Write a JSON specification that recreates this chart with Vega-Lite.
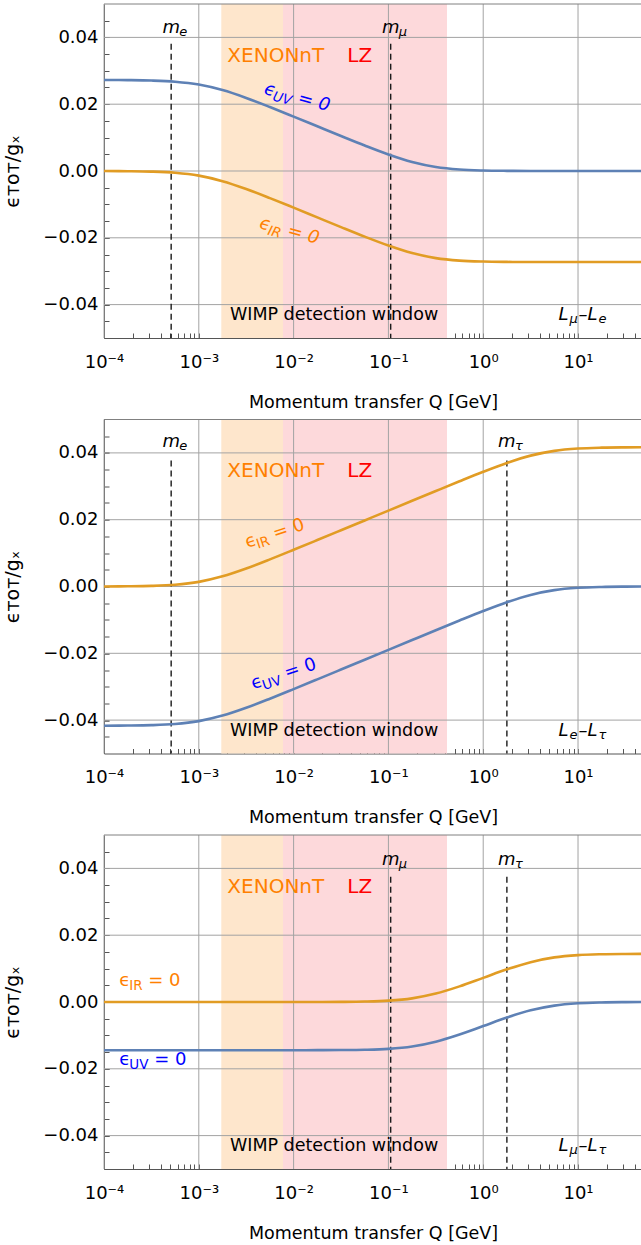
{
"$schema": "https://vega.github.io/schema/vega-lite/v6.json",
"padding": {"left": 3, "top": 3, "right": 0, "bottom": 0},
"autosize": {"type": "pad"},
"spacing": 81.5,
"bounds": "flush",
"config": {
  "view": {"stroke": null},
  "font": "DejaVu Sans",
  "text": {"font": "DejaVu Sans"},
  "axis": {"labelFont": "DejaVu Sans", "titleFont": "DejaVu Sans", "zindex": 1}
},
"datasets": {
  "bands": [{"name": "XENONnT", "lo": 0.001727, "hi": 0.00773}, {"name": "LZ", "lo": 0.00773, "hi": 0.415}],
  "gx": [{"Q": 0.0001}, {"Q": 0.001}, {"Q": 0.01}, {"Q": 0.1}, {"Q": 1}, {"Q": 10}],
  "gy": [{"e": -0.04}, {"e": -0.02}, {"e": 0}, {"e": 0.02}, {"e": 0.04}],
  "frame": [{"e": 0.05}],
  "masses": [
    {"p": 1, "Q": 0.000511, "top": 0.0381}, {"p": 1, "Q": 0.10566, "top": 0.0381},
    {"p": 2, "Q": 0.000511, "top": 0.0377}, {"p": 2, "Q": 1.77686, "top": 0.0377},
    {"p": 3, "Q": 0.10566, "top": 0.0375}, {"p": 3, "Q": 1.77686, "top": 0.0375}
  ],
  "mlab": [
    {"p": 1, "Q": 0.000511, "e": 0.0414, "sub": "e"}, {"p": 1, "Q": 0.10566, "e": 0.0414, "sub": "μ"},
    {"p": 2, "Q": 0.000511, "e": 0.0419, "sub": "e"}, {"p": 2, "Q": 1.77686, "e": 0.0419, "sub": "τ"},
    {"p": 3, "Q": 0.10566, "e": 0.041, "sub": "μ"}, {"p": 3, "Q": 1.77686, "e": 0.041, "sub": "τ"}
  ],
  "tags": [
    {"k": "exp", "t": "XENONnT", "Q": 0.002, "e": 0.0327},
    {"k": "exp", "t": "LZ", "Q": 0.0368, "e": 0.0327},
    {"k": "win", "t": "WIMP detection window", "Q": 0.00213, "e": -0.0447}
  ],
  "llab": [
    {"p": 1, "Q": 6.24, "e": -0.0447, "a": "μ", "b": "e"},
    {"p": 2, "Q": 6.24, "e": -0.0447, "a": "e", "b": "τ"},
    {"p": 3, "Q": 6.24, "e": -0.0447, "a": "μ", "b": "τ"}
  ],
  "eps": [
    {"p": 1, "s": "UV", "Q": 0.00479, "e": 0.0231},
    {"p": 1, "s": "IR", "Q": 0.00425, "e": -0.0171},
    {"p": 2, "s": "IR", "Q": 0.00325, "e": 0.0115},
    {"p": 2, "s": "UV", "Q": 0.00376, "e": -0.0308},
    {"p": 3, "s": "IR", "Q": 0.000145, "e": 0.0049},
    {"p": 3, "s": "UV", "Q": 0.000145, "e": -0.0188}
  ],
  "curves": [
    {"p": 1, "Q": 0.0001, "uv": 0.027246, "ir": -0.000018},
    {"p": 1, "Q": 0.00017783, "uv": 0.027206, "ir": -0.000058},
    {"p": 1, "Q": 0.00031623, "uv": 0.027085, "ir": -0.000179},
    {"p": 1, "Q": 0.00056234, "uv": 0.026737, "ir": -0.000527},
    {"p": 1, "Q": 0.001, "uv": 0.025872, "ir": -0.001392},
    {"p": 1, "Q": 0.0017783, "uv": 0.024221, "ir": -0.003043},
    {"p": 1, "Q": 0.0031623, "uv": 0.021874, "ir": -0.00539},
    {"p": 1, "Q": 0.0056234, "uv": 0.019153, "ir": -0.008111},
    {"p": 1, "Q": 0.01, "uv": 0.016287, "ir": -0.010977},
    {"p": 1, "Q": 0.017783, "uv": 0.013376, "ir": -0.013888},
    {"p": 1, "Q": 0.031623, "uv": 0.01047, "ir": -0.016795},
    {"p": 1, "Q": 0.056234, "uv": 0.007619, "ir": -0.019645},
    {"p": 1, "Q": 0.1, "uv": 0.004942, "ir": -0.022322},
    {"p": 1, "Q": 0.17783, "uv": 0.002695, "ir": -0.024569},
    {"p": 1, "Q": 0.31623, "uv": 0.001188, "ir": -0.026077},
    {"p": 1, "Q": 0.56234, "uv": 0.000438, "ir": -0.026826},
    {"p": 1, "Q": 1, "uv": 0.000147, "ir": -0.027117},
    {"p": 1, "Q": 1.7783, "uv": 0.000047, "ir": -0.027217},
    {"p": 1, "Q": 3.1623, "uv": 0.000015, "ir": -0.027249},
    {"p": 1, "Q": 5.6234, "uv": 0.000005, "ir": -0.027259},
    {"p": 1, "Q": 10, "uv": 0.000002, "ir": -0.027262},
    {"p": 1, "Q": 17.783, "uv": 0, "ir": -0.027264},
    {"p": 1, "Q": 31.623, "uv": 0, "ir": -0.027264},
    {"p": 1, "Q": 47.3, "uv": 0, "ir": -0.027264},
    {"p": 2, "Q": 0.0001, "uv": -0.041678, "ir": 0.000018},
    {"p": 2, "Q": 0.00017783, "uv": -0.041638, "ir": 0.000058},
    {"p": 2, "Q": 0.00031623, "uv": -0.041517, "ir": 0.000179},
    {"p": 2, "Q": 0.00056234, "uv": -0.041169, "ir": 0.000527},
    {"p": 2, "Q": 0.001, "uv": -0.040304, "ir": 0.001392},
    {"p": 2, "Q": 0.0017783, "uv": -0.038653, "ir": 0.003043},
    {"p": 2, "Q": 0.0031623, "uv": -0.036306, "ir": 0.00539},
    {"p": 2, "Q": 0.0056234, "uv": -0.033584, "ir": 0.008112},
    {"p": 2, "Q": 0.01, "uv": -0.030714, "ir": 0.010982},
    {"p": 2, "Q": 0.017783, "uv": -0.027795, "ir": 0.013901},
    {"p": 2, "Q": 0.031623, "uv": -0.024859, "ir": 0.016837},
    {"p": 2, "Q": 0.056234, "uv": -0.021918, "ir": 0.019778},
    {"p": 2, "Q": 0.1, "uv": -0.018976, "ir": 0.02272},
    {"p": 2, "Q": 0.17783, "uv": -0.016036, "ir": 0.02566},
    {"p": 2, "Q": 0.31623, "uv": -0.013103, "ir": 0.028593},
    {"p": 2, "Q": 0.56234, "uv": -0.010192, "ir": 0.031504},
    {"p": 2, "Q": 1, "uv": -0.007349, "ir": 0.034347},
    {"p": 2, "Q": 1.7783, "uv": -0.0047, "ir": 0.036996},
    {"p": 2, "Q": 3.1623, "uv": -0.002512, "ir": 0.039184},
    {"p": 2, "Q": 5.6234, "uv": -0.001084, "ir": 0.040612},
    {"p": 2, "Q": 10, "uv": -0.000395, "ir": 0.041301},
    {"p": 2, "Q": 17.783, "uv": -0.000131, "ir": 0.041565},
    {"p": 2, "Q": 31.623, "uv": -0.000042, "ir": 0.041654},
    {"p": 2, "Q": 47.3, "uv": -0.000017, "ir": 0.041679},
    {"p": 3, "Q": 0.0001, "uv": -0.014433, "ir": 0},
    {"p": 3, "Q": 0.00017783, "uv": -0.014433, "ir": 0},
    {"p": 3, "Q": 0.00031623, "uv": -0.014433, "ir": 0},
    {"p": 3, "Q": 0.00056234, "uv": -0.014433, "ir": 0},
    {"p": 3, "Q": 0.001, "uv": -0.014433, "ir": 0},
    {"p": 3, "Q": 0.0017783, "uv": -0.014433, "ir": 0.0000001},
    {"p": 3, "Q": 0.0031623, "uv": -0.014433, "ir": 0.0000004},
    {"p": 3, "Q": 0.0056234, "uv": -0.014432, "ir": 0.0000014},
    {"p": 3, "Q": 0.01, "uv": -0.014429, "ir": 0.0000043},
    {"p": 3, "Q": 0.017783, "uv": -0.014419, "ir": 0.0000136},
    {"p": 3, "Q": 0.031623, "uv": -0.01439, "ir": 0.0000427},
    {"p": 3, "Q": 0.056234, "uv": -0.0143, "ir": 0.000133},
    {"p": 3, "Q": 0.1, "uv": -0.014035, "ir": 0.000398},
    {"p": 3, "Q": 0.17783, "uv": -0.013342, "ir": 0.001091},
    {"p": 3, "Q": 0.31623, "uv": -0.011916, "ir": 0.002517},
    {"p": 3, "Q": 0.56234, "uv": -0.009755, "ir": 0.004678},
    {"p": 3, "Q": 1, "uv": -0.007203, "ir": 0.00723},
    {"p": 3, "Q": 1.7783, "uv": -0.004653, "ir": 0.00978},
    {"p": 3, "Q": 3.1623, "uv": -0.002498, "ir": 0.011935},
    {"p": 3, "Q": 5.6234, "uv": -0.001081, "ir": 0.013352},
    {"p": 3, "Q": 10, "uv": -0.000394, "ir": 0.014039},
    {"p": 3, "Q": 17.783, "uv": -0.000132, "ir": 0.014301},
    {"p": 3, "Q": 31.623, "uv": -0.000043, "ir": 0.01439},
    {"p": 3, "Q": 47.3, "uv": -0.000017, "ir": 0.014415}
  ]
},
"vconcat": [
{
  "width": 538, "height": 334,
  "resolve": {"scale": {"color": "independent"}, "axis": {"y": "independent"}},
  "layer": [
    {"data": {"name": "bands"}, "mark": {"type": "rect"},
     "encoding": {"x": {"field": "lo", "type": "quantitative", "scale": {"type": "log", "domain": [0.0001, 47.3], "nice": false}},
       "x2": {"field": "hi"},
       "color": {"field": "name", "type": "nominal", "scale": {"domain": ["XENONnT", "LZ"], "range": ["#FEE6CC", "#FDD9DB"]}, "legend": null}}},
    {"data": {"name": "gx"}, "mark": {"type": "rule", "color": "#A3A3A3", "strokeWidth": 1},
     "encoding": {"x": {"field": "Q", "type": "quantitative", "scale": {"type": "log", "domain": [0.0001, 47.3], "nice": false}}}},
    {"data": {"name": "gy"}, "mark": {"type": "rule", "color": "#A3A3A3", "strokeWidth": 1},
     "encoding": {"y": {"field": "e", "type": "quantitative", "scale": {"domain": [-0.05, 0.05], "nice": false, "zero": false},
       "axis": {"orient": "left", "title": null, "labels": false, "domain": false, "grid": false, "tickSize": -5, "tickColor": "#555555",
         "values": [-0.045,-0.04,-0.035,-0.03,-0.025,-0.02,-0.015,-0.01,-0.005,0,0.005,0.01,0.015,0.02,0.025,0.03,0.035,0.04,0.045]}}}},
    {"data": {"name": "frame"}, "mark": {"type": "rule", "color": "#808080", "strokeWidth": 1},
     "encoding": {"y": {"field": "e", "type": "quantitative", "scale": {"domain": [-0.05, 0.05], "nice": false, "zero": false}, "axis": null}}},
    {"data": {"name": "masses"}, "transform": [{"filter": "datum.p == 1"}],
     "mark": {"type": "rule", "color": "#1A1A1A", "strokeWidth": 1.4, "strokeDash": [6, 4]},
     "encoding": {"x": {"field": "Q", "type": "quantitative", "scale": {"type": "log", "domain": [0.0001, 47.3], "nice": false}},
       "y": {"field": "top", "type": "quantitative", "scale": {"domain": [-0.05, 0.05], "nice": false, "zero": false}, "axis": null},
       "y2": {"datum": -0.05}}},
    {"data": {"name": "curves"}, "transform": [{"filter": "datum.p == 1"}, {"fold": ["uv", "ir"], "as": ["s", "e"]}],
     "mark": {"type": "line", "strokeWidth": 2.6, "interpolate": "monotone"},
     "encoding": {
       "x": {"field": "Q", "type": "quantitative", "scale": {"type": "log", "domain": [0.0001, 47.3], "nice": false},
         "axis": {"orient": "bottom", "title": "Momentum transfer Q [GeV]", "grid": false,
           "values": [0.0001,0.0002,0.0003,0.0004,0.0005,0.0006,0.0007,0.0008,0.0009,0.001,0.002,0.003,0.004,0.005,0.006,0.007,0.008,0.009,0.01,0.02,0.03,0.04,0.05,0.06,0.07,0.08,0.09,0.1,0.2,0.3,0.4,0.5,0.6,0.7,0.8,0.9,1,2,3,4,5,6,7,8,9,10,20,30,40],
           "labelExpr": "datum.value == 0.0001 ? '10⁻⁴' : datum.value == 0.001 ? '10⁻³' : datum.value == 0.01 ? '10⁻²' : datum.value == 0.1 ? '10⁻¹' : datum.value == 1 ? '10⁰' : datum.value == 10 ? '10¹' : ''",
           "tickSize": -5, "tickColor": "#555555", "domainColor": "#555555", "labelPadding": 20, "labelFontSize": 18, "labelColor": "#000000",
           "labelOverlap": false, "labelFlush": false, "labelBound": false,
           "titleFontSize": 17.5, "titleFontWeight": "normal", "titleColor": "#000000", "titlePadding": 22}},
       "y": {"field": "e", "type": "quantitative", "scale": {"domain": [-0.05, 0.05], "nice": false, "zero": false},
         "axis": {"orient": "left", "title": "ϵᴛᴏᴛ/gₓ", "grid": false, "values": [-0.04, -0.02, 0, 0.02, 0.04], "format": ".2f",
           "tickSize": -5, "tickColor": "#555555", "domainColor": "#555555", "labelPadding": 11, "labelFontSize": 18, "labelColor": "#000000",
           "labelOverlap": false, "labelFlush": false,
           "titleFontSize": 19, "titleFontWeight": "normal", "titleColor": "#000000", "titlePadding": 20}},
       "color": {"field": "s", "type": "nominal", "scale": {"domain": ["uv", "ir"], "range": ["#5E81B5", "#E19C24"]}, "legend": null}}},
    {"data": {"name": "mlab"}, "transform": [{"filter": "datum.p == 1"}],
     "mark": {"type": "text", "text": "m", "fontSize": 18, "fontStyle": "italic", "align": "center", "baseline": "alphabetic", "color": "#000000"},
     "encoding": {"x": {"field": "Q", "type": "quantitative", "scale": {"type": "log", "domain": [0.0001, 47.3], "nice": false}},
       "y": {"field": "e", "type": "quantitative", "scale": {"domain": [-0.05, 0.05], "nice": false, "zero": false}, "axis": null}}},
    {"data": {"name": "mlab"}, "transform": [{"filter": "datum.p == 1"}],
     "mark": {"type": "text", "fontSize": 13, "fontStyle": "italic", "align": "left", "baseline": "alphabetic", "dx": 8, "dy": 3, "color": "#000000"},
     "encoding": {"x": {"field": "Q", "type": "quantitative", "scale": {"type": "log", "domain": [0.0001, 47.3], "nice": false}},
       "y": {"field": "e", "type": "quantitative", "scale": {"domain": [-0.05, 0.05], "nice": false, "zero": false}, "axis": null},
       "text": {"field": "sub"}}},
    {"data": {"name": "tags"}, "transform": [{"filter": "datum.k == 'exp'"}],
     "mark": {"type": "text", "fontSize": 20, "align": "left", "baseline": "alphabetic"},
     "encoding": {"x": {"field": "Q", "type": "quantitative", "scale": {"type": "log", "domain": [0.0001, 47.3], "nice": false}},
       "y": {"field": "e", "type": "quantitative", "scale": {"domain": [-0.05, 0.05], "nice": false, "zero": false}, "axis": null},
       "text": {"field": "t"},
       "color": {"field": "t", "type": "nominal", "scale": {"domain": ["XENONnT", "LZ"], "range": ["#FF8000", "#FF0000"]}, "legend": null}}},
    {"data": {"name": "tags"}, "transform": [{"filter": "datum.k == 'win'"}],
     "mark": {"type": "text", "fontSize": 17.5, "align": "left", "baseline": "alphabetic", "color": "#000000"},
     "encoding": {"x": {"field": "Q", "type": "quantitative", "scale": {"type": "log", "domain": [0.0001, 47.3], "nice": false}},
       "y": {"field": "e", "type": "quantitative", "scale": {"domain": [-0.05, 0.05], "nice": false, "zero": false}, "axis": null},
       "text": {"field": "t"}}},
    {"data": {"name": "llab"}, "transform": [{"filter": "datum.p == 1"}],
     "mark": {"type": "text", "text": "L", "fontSize": 18, "fontStyle": "italic", "align": "left", "baseline": "alphabetic", "color": "#000000"},
     "encoding": {"x": {"field": "Q", "type": "quantitative", "scale": {"type": "log", "domain": [0.0001, 47.3], "nice": false}},
       "y": {"field": "e", "type": "quantitative", "scale": {"domain": [-0.05, 0.05], "nice": false, "zero": false}, "axis": null}}},
    {"data": {"name": "llab"}, "transform": [{"filter": "datum.p == 1"}],
     "mark": {"type": "text", "fontSize": 13, "fontStyle": "italic", "align": "left", "baseline": "alphabetic", "dx": 11, "dy": 3, "color": "#000000"},
     "encoding": {"x": {"field": "Q", "type": "quantitative", "scale": {"type": "log", "domain": [0.0001, 47.3], "nice": false}},
       "y": {"field": "e", "type": "quantitative", "scale": {"domain": [-0.05, 0.05], "nice": false, "zero": false}, "axis": null},
       "text": {"field": "a"}}},
    {"data": {"name": "llab"}, "transform": [{"filter": "datum.p == 1"}],
     "mark": {"type": "text", "text": "–L", "fontSize": 18, "fontStyle": "italic", "align": "left", "baseline": "alphabetic", "dx": 20, "color": "#000000"},
     "encoding": {"x": {"field": "Q", "type": "quantitative", "scale": {"type": "log", "domain": [0.0001, 47.3], "nice": false}},
       "y": {"field": "e", "type": "quantitative", "scale": {"domain": [-0.05, 0.05], "nice": false, "zero": false}, "axis": null}}},
    {"data": {"name": "llab"}, "transform": [{"filter": "datum.p == 1"}],
     "mark": {"type": "text", "fontSize": 13, "fontStyle": "italic", "align": "left", "baseline": "alphabetic", "dx": 40, "dy": 3, "color": "#000000"},
     "encoding": {"x": {"field": "Q", "type": "quantitative", "scale": {"type": "log", "domain": [0.0001, 47.3], "nice": false}},
       "y": {"field": "e", "type": "quantitative", "scale": {"domain": [-0.05, 0.05], "nice": false, "zero": false}, "axis": null},
       "text": {"field": "b"}}},
    {"data": {"name": "eps"}, "transform": [{"filter": "datum.p == 1"}],
     "mark": {"type": "text", "text": "ϵ", "fontSize": 18, "fontStyle": "italic", "align": "left", "baseline": "alphabetic", "angle": 15},
     "encoding": {"x": {"field": "Q", "type": "quantitative", "scale": {"type": "log", "domain": [0.0001, 47.3], "nice": false}},
       "y": {"field": "e", "type": "quantitative", "scale": {"domain": [-0.05, 0.05], "nice": false, "zero": false}, "axis": null},
       "color": {"field": "s", "type": "nominal", "scale": {"domain": ["UV", "IR"], "range": ["#0000FF", "#FF8000"]}, "legend": null}}},
    {"data": {"name": "eps"}, "transform": [{"filter": "datum.p == 1"}],
     "mark": {"type": "text", "fontSize": 13.5, "fontStyle": "italic", "align": "left", "baseline": "alphabetic", "angle": 15, "dx": 10, "dy": 4},
     "encoding": {"x": {"field": "Q", "type": "quantitative", "scale": {"type": "log", "domain": [0.0001, 47.3], "nice": false}},
       "y": {"field": "e", "type": "quantitative", "scale": {"domain": [-0.05, 0.05], "nice": false, "zero": false}, "axis": null},
       "text": {"field": "s"},
       "color": {"field": "s", "type": "nominal", "scale": {"domain": ["UV", "IR"], "range": ["#0000FF", "#FF8000"]}, "legend": null}}},
    {"data": {"name": "eps"}, "transform": [{"filter": "datum.p == 1 && datum.s == 'UV'"}],
     "mark": {"type": "text", "text": "= 0", "fontSize": 18, "fontStyle": "italic", "align": "left", "baseline": "alphabetic", "angle": 15, "dx": 35, "color": "#0000FF"},
     "encoding": {"x": {"field": "Q", "type": "quantitative", "scale": {"type": "log", "domain": [0.0001, 47.3], "nice": false}},
       "y": {"field": "e", "type": "quantitative", "scale": {"domain": [-0.05, 0.05], "nice": false, "zero": false}, "axis": null}}},
    {"data": {"name": "eps"}, "transform": [{"filter": "datum.p == 1 && datum.s == 'IR'"}],
     "mark": {"type": "text", "text": "= 0", "fontSize": 18, "fontStyle": "italic", "align": "left", "baseline": "alphabetic", "angle": 15, "dx": 29, "color": "#FF8000"},
     "encoding": {"x": {"field": "Q", "type": "quantitative", "scale": {"type": "log", "domain": [0.0001, 47.3], "nice": false}},
       "y": {"field": "e", "type": "quantitative", "scale": {"domain": [-0.05, 0.05], "nice": false, "zero": false}, "axis": null}}}
  ]
},
{
  "width": 538, "height": 334,
  "resolve": {"scale": {"color": "independent"}, "axis": {"y": "independent"}},
  "layer": [
    {"data": {"name": "bands"}, "mark": {"type": "rect"},
     "encoding": {"x": {"field": "lo", "type": "quantitative", "scale": {"type": "log", "domain": [0.0001, 47.3], "nice": false}},
       "x2": {"field": "hi"},
       "color": {"field": "name", "type": "nominal", "scale": {"domain": ["XENONnT", "LZ"], "range": ["#FEE6CC", "#FDD9DB"]}, "legend": null}}},
    {"data": {"name": "gx"}, "mark": {"type": "rule", "color": "#A3A3A3", "strokeWidth": 1},
     "encoding": {"x": {"field": "Q", "type": "quantitative", "scale": {"type": "log", "domain": [0.0001, 47.3], "nice": false}}}},
    {"data": {"name": "gy"}, "mark": {"type": "rule", "color": "#A3A3A3", "strokeWidth": 1},
     "encoding": {"y": {"field": "e", "type": "quantitative", "scale": {"domain": [-0.05, 0.05], "nice": false, "zero": false},
       "axis": {"orient": "left", "title": null, "labels": false, "domain": false, "grid": false, "tickSize": -5, "tickColor": "#555555",
         "values": [-0.045,-0.04,-0.035,-0.03,-0.025,-0.02,-0.015,-0.01,-0.005,0,0.005,0.01,0.015,0.02,0.025,0.03,0.035,0.04,0.045]}}}},
    {"data": {"name": "frame"}, "mark": {"type": "rule", "color": "#808080", "strokeWidth": 1},
     "encoding": {"y": {"field": "e", "type": "quantitative", "scale": {"domain": [-0.05, 0.05], "nice": false, "zero": false}, "axis": null}}},
    {"data": {"name": "masses"}, "transform": [{"filter": "datum.p == 2"}],
     "mark": {"type": "rule", "color": "#1A1A1A", "strokeWidth": 1.4, "strokeDash": [6, 4]},
     "encoding": {"x": {"field": "Q", "type": "quantitative", "scale": {"type": "log", "domain": [0.0001, 47.3], "nice": false}},
       "y": {"field": "top", "type": "quantitative", "scale": {"domain": [-0.05, 0.05], "nice": false, "zero": false}, "axis": null},
       "y2": {"datum": -0.05}}},
    {"data": {"name": "curves"}, "transform": [{"filter": "datum.p == 2"}, {"fold": ["uv", "ir"], "as": ["s", "e"]}],
     "mark": {"type": "line", "strokeWidth": 2.6, "interpolate": "monotone"},
     "encoding": {
       "x": {"field": "Q", "type": "quantitative", "scale": {"type": "log", "domain": [0.0001, 47.3], "nice": false},
         "axis": {"orient": "bottom", "title": "Momentum transfer Q [GeV]", "grid": false,
           "values": [0.0001,0.0002,0.0003,0.0004,0.0005,0.0006,0.0007,0.0008,0.0009,0.001,0.002,0.003,0.004,0.005,0.006,0.007,0.008,0.009,0.01,0.02,0.03,0.04,0.05,0.06,0.07,0.08,0.09,0.1,0.2,0.3,0.4,0.5,0.6,0.7,0.8,0.9,1,2,3,4,5,6,7,8,9,10,20,30,40],
           "labelExpr": "datum.value == 0.0001 ? '10⁻⁴' : datum.value == 0.001 ? '10⁻³' : datum.value == 0.01 ? '10⁻²' : datum.value == 0.1 ? '10⁻¹' : datum.value == 1 ? '10⁰' : datum.value == 10 ? '10¹' : ''",
           "tickSize": -5, "tickColor": "#555555", "domainColor": "#555555", "labelPadding": 20, "labelFontSize": 18, "labelColor": "#000000",
           "labelOverlap": false, "labelFlush": false, "labelBound": false,
           "titleFontSize": 17.5, "titleFontWeight": "normal", "titleColor": "#000000", "titlePadding": 22}},
       "y": {"field": "e", "type": "quantitative", "scale": {"domain": [-0.05, 0.05], "nice": false, "zero": false},
         "axis": {"orient": "left", "title": "ϵᴛᴏᴛ/gₓ", "grid": false, "values": [-0.04, -0.02, 0, 0.02, 0.04], "format": ".2f",
           "tickSize": -5, "tickColor": "#555555", "domainColor": "#555555", "labelPadding": 11, "labelFontSize": 18, "labelColor": "#000000",
           "labelOverlap": false, "labelFlush": false,
           "titleFontSize": 19, "titleFontWeight": "normal", "titleColor": "#000000", "titlePadding": 20}},
       "color": {"field": "s", "type": "nominal", "scale": {"domain": ["uv", "ir"], "range": ["#5E81B5", "#E19C24"]}, "legend": null}}},
    {"data": {"name": "mlab"}, "transform": [{"filter": "datum.p == 2"}],
     "mark": {"type": "text", "text": "m", "fontSize": 18, "fontStyle": "italic", "align": "center", "baseline": "alphabetic", "color": "#000000"},
     "encoding": {"x": {"field": "Q", "type": "quantitative", "scale": {"type": "log", "domain": [0.0001, 47.3], "nice": false}},
       "y": {"field": "e", "type": "quantitative", "scale": {"domain": [-0.05, 0.05], "nice": false, "zero": false}, "axis": null}}},
    {"data": {"name": "mlab"}, "transform": [{"filter": "datum.p == 2"}],
     "mark": {"type": "text", "fontSize": 13, "fontStyle": "italic", "align": "left", "baseline": "alphabetic", "dx": 8, "dy": 3, "color": "#000000"},
     "encoding": {"x": {"field": "Q", "type": "quantitative", "scale": {"type": "log", "domain": [0.0001, 47.3], "nice": false}},
       "y": {"field": "e", "type": "quantitative", "scale": {"domain": [-0.05, 0.05], "nice": false, "zero": false}, "axis": null},
       "text": {"field": "sub"}}},
    {"data": {"name": "tags"}, "transform": [{"filter": "datum.k == 'exp'"}],
     "mark": {"type": "text", "fontSize": 20, "align": "left", "baseline": "alphabetic"},
     "encoding": {"x": {"field": "Q", "type": "quantitative", "scale": {"type": "log", "domain": [0.0001, 47.3], "nice": false}},
       "y": {"field": "e", "type": "quantitative", "scale": {"domain": [-0.05, 0.05], "nice": false, "zero": false}, "axis": null},
       "text": {"field": "t"},
       "color": {"field": "t", "type": "nominal", "scale": {"domain": ["XENONnT", "LZ"], "range": ["#FF8000", "#FF0000"]}, "legend": null}}},
    {"data": {"name": "tags"}, "transform": [{"filter": "datum.k == 'win'"}],
     "mark": {"type": "text", "fontSize": 17.5, "align": "left", "baseline": "alphabetic", "color": "#000000"},
     "encoding": {"x": {"field": "Q", "type": "quantitative", "scale": {"type": "log", "domain": [0.0001, 47.3], "nice": false}},
       "y": {"field": "e", "type": "quantitative", "scale": {"domain": [-0.05, 0.05], "nice": false, "zero": false}, "axis": null},
       "text": {"field": "t"}}},
    {"data": {"name": "llab"}, "transform": [{"filter": "datum.p == 2"}],
     "mark": {"type": "text", "text": "L", "fontSize": 18, "fontStyle": "italic", "align": "left", "baseline": "alphabetic", "color": "#000000"},
     "encoding": {"x": {"field": "Q", "type": "quantitative", "scale": {"type": "log", "domain": [0.0001, 47.3], "nice": false}},
       "y": {"field": "e", "type": "quantitative", "scale": {"domain": [-0.05, 0.05], "nice": false, "zero": false}, "axis": null}}},
    {"data": {"name": "llab"}, "transform": [{"filter": "datum.p == 2"}],
     "mark": {"type": "text", "fontSize": 13, "fontStyle": "italic", "align": "left", "baseline": "alphabetic", "dx": 11, "dy": 3, "color": "#000000"},
     "encoding": {"x": {"field": "Q", "type": "quantitative", "scale": {"type": "log", "domain": [0.0001, 47.3], "nice": false}},
       "y": {"field": "e", "type": "quantitative", "scale": {"domain": [-0.05, 0.05], "nice": false, "zero": false}, "axis": null},
       "text": {"field": "a"}}},
    {"data": {"name": "llab"}, "transform": [{"filter": "datum.p == 2"}],
     "mark": {"type": "text", "text": "–L", "fontSize": 18, "fontStyle": "italic", "align": "left", "baseline": "alphabetic", "dx": 20, "color": "#000000"},
     "encoding": {"x": {"field": "Q", "type": "quantitative", "scale": {"type": "log", "domain": [0.0001, 47.3], "nice": false}},
       "y": {"field": "e", "type": "quantitative", "scale": {"domain": [-0.05, 0.05], "nice": false, "zero": false}, "axis": null}}},
    {"data": {"name": "llab"}, "transform": [{"filter": "datum.p == 2"}],
     "mark": {"type": "text", "fontSize": 13, "fontStyle": "italic", "align": "left", "baseline": "alphabetic", "dx": 40, "dy": 3, "color": "#000000"},
     "encoding": {"x": {"field": "Q", "type": "quantitative", "scale": {"type": "log", "domain": [0.0001, 47.3], "nice": false}},
       "y": {"field": "e", "type": "quantitative", "scale": {"domain": [-0.05, 0.05], "nice": false, "zero": false}, "axis": null},
       "text": {"field": "b"}}},
    {"data": {"name": "eps"}, "transform": [{"filter": "datum.p == 2"}],
     "mark": {"type": "text", "text": "ϵ", "fontSize": 18, "align": "left", "baseline": "alphabetic", "angle": -18},
     "encoding": {"x": {"field": "Q", "type": "quantitative", "scale": {"type": "log", "domain": [0.0001, 47.3], "nice": false}},
       "y": {"field": "e", "type": "quantitative", "scale": {"domain": [-0.05, 0.05], "nice": false, "zero": false}, "axis": null},
       "color": {"field": "s", "type": "nominal", "scale": {"domain": ["UV", "IR"], "range": ["#0000FF", "#FF8000"]}, "legend": null}}},
    {"data": {"name": "eps"}, "transform": [{"filter": "datum.p == 2"}],
     "mark": {"type": "text", "fontSize": 13.5, "align": "left", "baseline": "alphabetic", "angle": -18, "dx": 10, "dy": 4},
     "encoding": {"x": {"field": "Q", "type": "quantitative", "scale": {"type": "log", "domain": [0.0001, 47.3], "nice": false}},
       "y": {"field": "e", "type": "quantitative", "scale": {"domain": [-0.05, 0.05], "nice": false, "zero": false}, "axis": null},
       "text": {"field": "s"},
       "color": {"field": "s", "type": "nominal", "scale": {"domain": ["UV", "IR"], "range": ["#0000FF", "#FF8000"]}, "legend": null}}},
    {"data": {"name": "eps"}, "transform": [{"filter": "datum.p == 2 && datum.s == 'UV'"}],
     "mark": {"type": "text", "text": "= 0", "fontSize": 18, "align": "left", "baseline": "alphabetic", "angle": -18, "dx": 35, "color": "#0000FF"},
     "encoding": {"x": {"field": "Q", "type": "quantitative", "scale": {"type": "log", "domain": [0.0001, 47.3], "nice": false}},
       "y": {"field": "e", "type": "quantitative", "scale": {"domain": [-0.05, 0.05], "nice": false, "zero": false}, "axis": null}}},
    {"data": {"name": "eps"}, "transform": [{"filter": "datum.p == 2 && datum.s == 'IR'"}],
     "mark": {"type": "text", "text": "= 0", "fontSize": 18, "align": "left", "baseline": "alphabetic", "angle": -18, "dx": 29, "color": "#FF8000"},
     "encoding": {"x": {"field": "Q", "type": "quantitative", "scale": {"type": "log", "domain": [0.0001, 47.3], "nice": false}},
       "y": {"field": "e", "type": "quantitative", "scale": {"domain": [-0.05, 0.05], "nice": false, "zero": false}, "axis": null}}}
  ]
},
{
  "width": 538, "height": 334,
  "resolve": {"scale": {"color": "independent"}, "axis": {"y": "independent"}},
  "layer": [
    {"data": {"name": "bands"}, "mark": {"type": "rect"},
     "encoding": {"x": {"field": "lo", "type": "quantitative", "scale": {"type": "log", "domain": [0.0001, 47.3], "nice": false}},
       "x2": {"field": "hi"},
       "color": {"field": "name", "type": "nominal", "scale": {"domain": ["XENONnT", "LZ"], "range": ["#FEE6CC", "#FDD9DB"]}, "legend": null}}},
    {"data": {"name": "gx"}, "mark": {"type": "rule", "color": "#A3A3A3", "strokeWidth": 1},
     "encoding": {"x": {"field": "Q", "type": "quantitative", "scale": {"type": "log", "domain": [0.0001, 47.3], "nice": false}}}},
    {"data": {"name": "gy"}, "mark": {"type": "rule", "color": "#A3A3A3", "strokeWidth": 1},
     "encoding": {"y": {"field": "e", "type": "quantitative", "scale": {"domain": [-0.05, 0.05], "nice": false, "zero": false},
       "axis": {"orient": "left", "title": null, "labels": false, "domain": false, "grid": false, "tickSize": -5, "tickColor": "#555555",
         "values": [-0.045,-0.04,-0.035,-0.03,-0.025,-0.02,-0.015,-0.01,-0.005,0,0.005,0.01,0.015,0.02,0.025,0.03,0.035,0.04,0.045]}}}},
    {"data": {"name": "frame"}, "mark": {"type": "rule", "color": "#808080", "strokeWidth": 1},
     "encoding": {"y": {"field": "e", "type": "quantitative", "scale": {"domain": [-0.05, 0.05], "nice": false, "zero": false}, "axis": null}}},
    {"data": {"name": "masses"}, "transform": [{"filter": "datum.p == 3"}],
     "mark": {"type": "rule", "color": "#1A1A1A", "strokeWidth": 1.4, "strokeDash": [6, 4]},
     "encoding": {"x": {"field": "Q", "type": "quantitative", "scale": {"type": "log", "domain": [0.0001, 47.3], "nice": false}},
       "y": {"field": "top", "type": "quantitative", "scale": {"domain": [-0.05, 0.05], "nice": false, "zero": false}, "axis": null},
       "y2": {"datum": -0.05}}},
    {"data": {"name": "curves"}, "transform": [{"filter": "datum.p == 3"}, {"fold": ["uv", "ir"], "as": ["s", "e"]}],
     "mark": {"type": "line", "strokeWidth": 2.6, "interpolate": "monotone"},
     "encoding": {
       "x": {"field": "Q", "type": "quantitative", "scale": {"type": "log", "domain": [0.0001, 47.3], "nice": false},
         "axis": {"orient": "bottom", "title": "Momentum transfer Q [GeV]", "grid": false,
           "values": [0.0001,0.0002,0.0003,0.0004,0.0005,0.0006,0.0007,0.0008,0.0009,0.001,0.002,0.003,0.004,0.005,0.006,0.007,0.008,0.009,0.01,0.02,0.03,0.04,0.05,0.06,0.07,0.08,0.09,0.1,0.2,0.3,0.4,0.5,0.6,0.7,0.8,0.9,1,2,3,4,5,6,7,8,9,10,20,30,40],
           "labelExpr": "datum.value == 0.0001 ? '10⁻⁴' : datum.value == 0.001 ? '10⁻³' : datum.value == 0.01 ? '10⁻²' : datum.value == 0.1 ? '10⁻¹' : datum.value == 1 ? '10⁰' : datum.value == 10 ? '10¹' : ''",
           "tickSize": -5, "tickColor": "#555555", "domainColor": "#555555", "labelPadding": 20, "labelFontSize": 18, "labelColor": "#000000",
           "labelOverlap": false, "labelFlush": false, "labelBound": false,
           "titleFontSize": 17.5, "titleFontWeight": "normal", "titleColor": "#000000", "titlePadding": 22}},
       "y": {"field": "e", "type": "quantitative", "scale": {"domain": [-0.05, 0.05], "nice": false, "zero": false},
         "axis": {"orient": "left", "title": "ϵᴛᴏᴛ/gₓ", "grid": false, "values": [-0.04, -0.02, 0, 0.02, 0.04], "format": ".2f",
           "tickSize": -5, "tickColor": "#555555", "domainColor": "#555555", "labelPadding": 11, "labelFontSize": 18, "labelColor": "#000000",
           "labelOverlap": false, "labelFlush": false,
           "titleFontSize": 19, "titleFontWeight": "normal", "titleColor": "#000000", "titlePadding": 20}},
       "color": {"field": "s", "type": "nominal", "scale": {"domain": ["uv", "ir"], "range": ["#5E81B5", "#E19C24"]}, "legend": null}}},
    {"data": {"name": "mlab"}, "transform": [{"filter": "datum.p == 3"}],
     "mark": {"type": "text", "text": "m", "fontSize": 18, "fontStyle": "italic", "align": "center", "baseline": "alphabetic", "color": "#000000"},
     "encoding": {"x": {"field": "Q", "type": "quantitative", "scale": {"type": "log", "domain": [0.0001, 47.3], "nice": false}},
       "y": {"field": "e", "type": "quantitative", "scale": {"domain": [-0.05, 0.05], "nice": false, "zero": false}, "axis": null}}},
    {"data": {"name": "mlab"}, "transform": [{"filter": "datum.p == 3"}],
     "mark": {"type": "text", "fontSize": 13, "fontStyle": "italic", "align": "left", "baseline": "alphabetic", "dx": 8, "dy": 3, "color": "#000000"},
     "encoding": {"x": {"field": "Q", "type": "quantitative", "scale": {"type": "log", "domain": [0.0001, 47.3], "nice": false}},
       "y": {"field": "e", "type": "quantitative", "scale": {"domain": [-0.05, 0.05], "nice": false, "zero": false}, "axis": null},
       "text": {"field": "sub"}}},
    {"data": {"name": "tags"}, "transform": [{"filter": "datum.k == 'exp'"}],
     "mark": {"type": "text", "fontSize": 20, "align": "left", "baseline": "alphabetic"},
     "encoding": {"x": {"field": "Q", "type": "quantitative", "scale": {"type": "log", "domain": [0.0001, 47.3], "nice": false}},
       "y": {"field": "e", "type": "quantitative", "scale": {"domain": [-0.05, 0.05], "nice": false, "zero": false}, "axis": null},
       "text": {"field": "t"},
       "color": {"field": "t", "type": "nominal", "scale": {"domain": ["XENONnT", "LZ"], "range": ["#FF8000", "#FF0000"]}, "legend": null}}},
    {"data": {"name": "tags"}, "transform": [{"filter": "datum.k == 'win'"}],
     "mark": {"type": "text", "fontSize": 17.5, "align": "left", "baseline": "alphabetic", "color": "#000000"},
     "encoding": {"x": {"field": "Q", "type": "quantitative", "scale": {"type": "log", "domain": [0.0001, 47.3], "nice": false}},
       "y": {"field": "e", "type": "quantitative", "scale": {"domain": [-0.05, 0.05], "nice": false, "zero": false}, "axis": null},
       "text": {"field": "t"}}},
    {"data": {"name": "llab"}, "transform": [{"filter": "datum.p == 3"}],
     "mark": {"type": "text", "text": "L", "fontSize": 18, "fontStyle": "italic", "align": "left", "baseline": "alphabetic", "color": "#000000"},
     "encoding": {"x": {"field": "Q", "type": "quantitative", "scale": {"type": "log", "domain": [0.0001, 47.3], "nice": false}},
       "y": {"field": "e", "type": "quantitative", "scale": {"domain": [-0.05, 0.05], "nice": false, "zero": false}, "axis": null}}},
    {"data": {"name": "llab"}, "transform": [{"filter": "datum.p == 3"}],
     "mark": {"type": "text", "fontSize": 13, "fontStyle": "italic", "align": "left", "baseline": "alphabetic", "dx": 11, "dy": 3, "color": "#000000"},
     "encoding": {"x": {"field": "Q", "type": "quantitative", "scale": {"type": "log", "domain": [0.0001, 47.3], "nice": false}},
       "y": {"field": "e", "type": "quantitative", "scale": {"domain": [-0.05, 0.05], "nice": false, "zero": false}, "axis": null},
       "text": {"field": "a"}}},
    {"data": {"name": "llab"}, "transform": [{"filter": "datum.p == 3"}],
     "mark": {"type": "text", "text": "–L", "fontSize": 18, "fontStyle": "italic", "align": "left", "baseline": "alphabetic", "dx": 20, "color": "#000000"},
     "encoding": {"x": {"field": "Q", "type": "quantitative", "scale": {"type": "log", "domain": [0.0001, 47.3], "nice": false}},
       "y": {"field": "e", "type": "quantitative", "scale": {"domain": [-0.05, 0.05], "nice": false, "zero": false}, "axis": null}}},
    {"data": {"name": "llab"}, "transform": [{"filter": "datum.p == 3"}],
     "mark": {"type": "text", "fontSize": 13, "fontStyle": "italic", "align": "left", "baseline": "alphabetic", "dx": 40, "dy": 3, "color": "#000000"},
     "encoding": {"x": {"field": "Q", "type": "quantitative", "scale": {"type": "log", "domain": [0.0001, 47.3], "nice": false}},
       "y": {"field": "e", "type": "quantitative", "scale": {"domain": [-0.05, 0.05], "nice": false, "zero": false}, "axis": null},
       "text": {"field": "b"}}},
    {"data": {"name": "eps"}, "transform": [{"filter": "datum.p == 3"}],
     "mark": {"type": "text", "text": "ϵ", "fontSize": 18, "align": "left", "baseline": "alphabetic"},
     "encoding": {"x": {"field": "Q", "type": "quantitative", "scale": {"type": "log", "domain": [0.0001, 47.3], "nice": false}},
       "y": {"field": "e", "type": "quantitative", "scale": {"domain": [-0.05, 0.05], "nice": false, "zero": false}, "axis": null},
       "color": {"field": "s", "type": "nominal", "scale": {"domain": ["UV", "IR"], "range": ["#0000FF", "#FF8000"]}, "legend": null}}},
    {"data": {"name": "eps"}, "transform": [{"filter": "datum.p == 3"}],
     "mark": {"type": "text", "fontSize": 13.5, "align": "left", "baseline": "alphabetic", "dx": 10, "dy": 4},
     "encoding": {"x": {"field": "Q", "type": "quantitative", "scale": {"type": "log", "domain": [0.0001, 47.3], "nice": false}},
       "y": {"field": "e", "type": "quantitative", "scale": {"domain": [-0.05, 0.05], "nice": false, "zero": false}, "axis": null},
       "text": {"field": "s"},
       "color": {"field": "s", "type": "nominal", "scale": {"domain": ["UV", "IR"], "range": ["#0000FF", "#FF8000"]}, "legend": null}}},
    {"data": {"name": "eps"}, "transform": [{"filter": "datum.p == 3 && datum.s == 'UV'"}],
     "mark": {"type": "text", "text": "= 0", "fontSize": 18, "align": "left", "baseline": "alphabetic", "dx": 35, "color": "#0000FF"},
     "encoding": {"x": {"field": "Q", "type": "quantitative", "scale": {"type": "log", "domain": [0.0001, 47.3], "nice": false}},
       "y": {"field": "e", "type": "quantitative", "scale": {"domain": [-0.05, 0.05], "nice": false, "zero": false}, "axis": null}}},
    {"data": {"name": "eps"}, "transform": [{"filter": "datum.p == 3 && datum.s == 'IR'"}],
     "mark": {"type": "text", "text": "= 0", "fontSize": 18, "align": "left", "baseline": "alphabetic", "dx": 29, "color": "#FF8000"},
     "encoding": {"x": {"field": "Q", "type": "quantitative", "scale": {"type": "log", "domain": [0.0001, 47.3], "nice": false}},
       "y": {"field": "e", "type": "quantitative", "scale": {"domain": [-0.05, 0.05], "nice": false, "zero": false}, "axis": null}}}
  ]
}
]
}
